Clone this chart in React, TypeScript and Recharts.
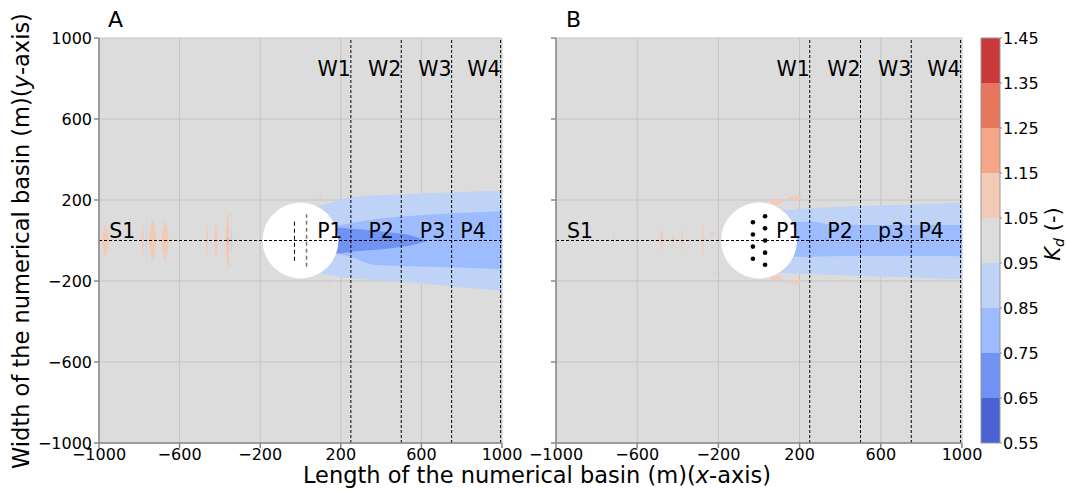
import React from "react";
import {
  ComposedChart,
  Area,
  Scatter,
  XAxis,
  YAxis,
  CartesianGrid,
  ReferenceLine,
  ReferenceDot,
  ReferenceArea,
} from "recharts";

// axis ticks (both panels)
const axisTicks = [-1000, -600, -200, 200, 600, 1000];

// colour levels of K_d (colorbar)
const levels = [0.55, 0.65, 0.75, 0.85, 0.95, 1.05, 1.15, 1.25, 1.35, 1.45];
const levelColors = [
  "#4b62d4",
  "#6f92f3",
  "#9cbcff",
  "#bfd3f6",
  "#dcdcdc",
  "#f2cbb7",
  "#f6a688",
  "#e8765c",
  "#c9393a",
];

// measuring sections
const wLines = [250, 500, 750, 993];
const wNames = ["W1", "W2", "W3", "W4"];

// wake bands, panel A: [x, low, high]
const wakeA085: number[][] = [
  [0, -150, 150],
  [113, -165, 175],
  [252, -187, 214],
  [505, -203, 228],
  [755, -228, 238],
  [1000, -248, 246],
];
const wakeA075: number[][] = [
  [100, -60, 62],
  [188, -67, 75],
  [252, -82, 86],
  [361, -120, 104],
  [505, -126, 118],
  [755, -132, 134],
  [1000, -142, 146],
];
const wakeA065: number[][] = [
  [150, -62, 62],
  [200, -63, 63],
  [252, -56, 58],
  [361, -47, 50],
  [450, -38, 40],
  [505, -31, 33],
  [570, -18, 18],
  [626, -4, -2],
];

// wake bands, panel B
const wakeB085: number[][] = [
  [0, -150, 150],
  [120, -160, 151],
  [250, -166, 159],
  [501, -175, 170],
  [749, -182, 178],
  [1000, -192, 188],
];
const wakeB075: number[][] = [
  [100, -75, 82],
  [200, -80, 90],
  [250, -80, 92],
  [350, -78, 80],
  [501, -77, 76],
  [749, -77, 76],
  [1000, -78, 76],
];

// small contour patches: [x0, x1, y0, y1, level index]
const blobsA: number[][] = [
  [-987, -950, -80, 77, 5],
  [-790, -776, -80, 80, 5],
  [-755, -714, -96, 101, 5],
  [-768, -762, -129, 122, 3],
  [-692, -653, -98, 98, 5],
  [-469, -458, -80, 80, 5],
  [-429, -411, -85, 85, 5],
  [-372, -350, -146, 150, 5],
  [-366, -356, -22, 19, 6],
  [-346, -338, -58, 60, 3],
  [-346, -338, 118, 134, 3],
  [-346, -338, -130, -113, 3],
  [90, 105, 212, 230, 5],
  [130, 145, -228, -212, 5],
];
const blobsB: number[][] = [
  [-720, -714, -38, 44, 5],
  [-487, -471, -57, 59, 5],
  [-430, -418, -32, 34, 5],
  [-382, -374, -74, 73, 5],
  [-282, -272, -90, 90, 5],
  [-240, -218, 26, 44, 5],
  [-240, -218, -44, -26, 5],
  [-224, -212, 152, 168, 5],
  [-224, -212, -168, -152, 5],
  [54, 120, 175, 208, 5],
  [136, 218, 200, 220, 5],
  [54, 120, -198, -175, 5],
  [136, 218, -215, -195, 5],
];

// sampling points in panel B
const pointsB = [
  { x: -30, y: 90 },
  { x: -30, y: 30 },
  { x: -30, y: -30 },
  { x: -30, y: -90 },
  { x: 30, y: 120 },
  { x: 30, y: 60 },
  { x: 30, y: 0 },
  { x: 30, y: -60 },
  { x: 30, y: -120 },
];

const namesA = [
  { x: -885, y: 12, text: "S1" },
  { x: 146, y: 12, text: "P1" },
  { x: 400, y: 12, text: "P2" },
  { x: 655, y: 12, text: "P3" },
  { x: 856, y: 12, text: "P4" },
];
const namesB = [
  { x: -882, y: 12, text: "S1" },
  { x: 146, y: 12, text: "P1" },
  { x: 399, y: 12, text: "P2" },
  { x: 650, y: 12, text: "p3" },
  { x: 848, y: 12, text: "P4" },
];

const wLabelData = wLines.map((x, i) => ({ x, y: 810, text: wNames[i] }));

const FONT = "DejaVu Sans";

const toBand = (rows: number[][]) => rows.map(([x, lo, hi]) => ({ x, r: [lo, hi] }));
const toLens = ([x0, x1, y0, y1]: number[]) => {
  const ym = (y0 + y1) / 2;
  return [
    { x: x0, r: [ym, ym] },
    { x: (x0 + x1) / 2, r: [y0, y1] },
    { x: x1, r: [ym, ym] },
  ];
};

const fmt = (v: number) => (v < 0 ? `\u2212${-v}` : `${v}`);

const textShape = (anchor: "middle" | "end") => (p: any) => (
  <text
    x={p.cx}
    y={p.cy}
    textAnchor={anchor}
    fontSize={20.5}
    fontFamily={FONT}
    fill="#000"
  >
    {p.payload.text}
  </text>
);

const dotShape = (p: any) => <circle cx={p.cx} cy={p.cy} r={2.3} fill="#000" />;

interface PanelProps {
  left: number;
  width: number;
  rightPad: number;
  yAxisWidth: number;
  yLabels: boolean;
  bands: { rows: number[][]; color: string }[];
  blobs: number[][];
  names: { x: number; y: number; text: string }[];
  kind: "A" | "B";
}

function Panel({ left, width, rightPad, yAxisWidth, yLabels, bands, blobs, names, kind }: PanelProps) {
  const tickStyle = { fill: "#000", fontSize: 16, fontFamily: FONT };
  return (
    <div style={{ position: "absolute", left, top: 0 }}>
      <ComposedChart
        width={width}
        height={491}
        margin={{ top: 38, right: rightPad, bottom: 18, left: 0 }}
      >
        <CartesianGrid fill="#dcdcdc" fillOpacity={1} stroke="#c4c4c4" />
        <XAxis
          type="number"
          dataKey="x"
          domain={[-1000, 1000]}
          ticks={axisTicks}
          interval={0}
          allowDataOverflow
          tickFormatter={fmt}
          tick={tickStyle}
          tickSize={5}
          tickMargin={1}
          height={30}
          stroke="#888"
          strokeWidth={1.5}
        />
        <YAxis
          type="number"
          dataKey="y"
          domain={[-1000, 1000]}
          ticks={axisTicks}
          interval={0}
          allowDataOverflow
          tickFormatter={yLabels ? fmt : () => ""}
          tick={tickStyle}
          tickSize={5}
          tickMargin={2}
          width={yAxisWidth}
          stroke="#888"
          strokeWidth={1.5}
        />
        {blobs.map((b, i) => (
          <Area
            key={`blob-${i}`}
            data={toLens(b)}
            dataKey="r"
            type="monotone"
            stroke="none"
            fill={levelColors[b[4]]}
            fillOpacity={1}
            dot={false}
            activeDot={false}
            isAnimationActive={false}
          />
        ))}
        {bands.map((b, i) => (
          <Area
            key={`band-${i}`}
            data={toBand(b.rows)}
            dataKey="r"
            type="monotone"
            stroke="none"
            fill={b.color}
            fillOpacity={1}
            dot={false}
            activeDot={false}
            isAnimationActive={false}
          />
        ))}
        <ReferenceDot x={0} y={0} r={38} fill="#fff" stroke="none" zIndex={150} />
        {kind === "A" && (
          <ReferenceLine
            segment={[
              { x: -30, y: -100 },
              { x: -30, y: 100 },
            ]}
            stroke="#000"
            strokeDasharray="4 3"
            zIndex={300}
          />
        )}
        {kind === "A" && (
          <ReferenceLine
            segment={[
              { x: 30, y: -130 },
              { x: 30, y: 130 },
            ]}
            stroke="#777"
            strokeWidth={1.5}
            strokeDasharray="4 3"
            zIndex={300}
          />
        )}
        <ReferenceLine y={0} stroke="#000" strokeDasharray="3 2" zIndex={300} />
        {wLines.map((x) => (
          <ReferenceLine
            key={`w-${x}`}
            x={x}
            stroke="#000"
            strokeDasharray="3 2"
            zIndex={300}
          />
        ))}
        {kind === "B" && (
          <Scatter data={pointsB} shape={dotShape} isAnimationActive={false} />
        )}
        <Scatter data={names} shape={textShape("middle")} isAnimationActive={false} />
        <Scatter data={wLabelData} shape={textShape("end")} isAnimationActive={false} />
      </ComposedChart>
    </div>
  );
}

function ColorBar() {
  const segs = levelColors.map((c, i) => ({
    color: c,
    data: [
      { x: 0, r: [levels[i], levels[i + 1]] },
      { x: 1, r: [levels[i], levels[i + 1]] },
    ],
  }));
  return (
    <div style={{ position: "absolute", left: 975, top: 0 }}>
      <ComposedChart
        width={92}
        height={491}
        margin={{ top: 38, right: 0, bottom: 48, left: 6 }}
      >
        <XAxis type="number" dataKey="x" domain={[0, 1]} hide />
        <YAxis
          type="number"
          orientation="right"
          domain={[0.55, 1.45]}
          ticks={levels}
          interval={0}
          allowDataOverflow
          tickFormatter={(v: number) => v.toFixed(2)}
          tick={{ fill: "#000", fontSize: 16, fontFamily: FONT }}
          tickSize={2}
          tickMargin={1}
          width={67}
          axisLine={false}
          stroke="#888"
        />
        {segs.map((s, i) => (
          <Area
            key={`cb-${i}`}
            data={s.data}
            dataKey="r"
            type="linear"
            stroke="none"
            fill={s.color}
            fillOpacity={1}
            dot={false}
            activeDot={false}
            isAnimationActive={false}
          />
        ))}
        <ReferenceArea
          x1={0}
          x2={1}
          y1={0.55}
          y2={1.45}
          fill="none"
          stroke="#999"
          strokeWidth={1}
          zIndex={300}
        />
      </ComposedChart>
    </div>
  );
}

export default function App() {
  return (
    <div
      style={{
        position: "absolute",
        left: 0,
        top: 0,
        width: 1067,
        height: 491,
        background: "#fff",
        overflow: "hidden",
        fontFamily: FONT,
      }}
    >
      <Panel
        left={0}
        width={530}
        rightPad={28}
        yAxisWidth={99}
        yLabels
        bands={[
          { rows: wakeA085, color: levelColors[3] },
          { rows: wakeA075, color: levelColors[2] },
          { rows: wakeA065, color: levelColors[1] },
        ]}
        blobs={blobsA}
        names={namesA}
        kind="A"
      />
      <Panel
        left={520}
        width={472}
        rightPad={30}
        yAxisWidth={36}
        yLabels={false}
        bands={[
          { rows: wakeB085, color: levelColors[3] },
          { rows: wakeB075, color: levelColors[2] },
        ]}
        blobs={blobsB}
        names={namesB}
        kind="B"
      />
      <ColorBar />
      <svg
        width={1067}
        height={491}
        style={{ position: "absolute", left: 0, top: 0, pointerEvents: "none" }}
        fontFamily={FONT}
      >
        <text x={108} y={27} fontSize={22}>A</text>
        <text x={566} y={27} fontSize={22}>B</text>
        <text x={537} y={483} fontSize={22.5} textAnchor="middle">
          Length of the numerical basin (m)(<tspan fontStyle="italic">x</tspan>-axis)
        </text>
        <text transform="translate(29,241) rotate(-90)" fontSize={22.5} textAnchor="middle">
          Width of the numerical basin (m)(<tspan fontStyle="italic">y</tspan>-axis)
        </text>
        <text transform="translate(1060,234) rotate(-90)" fontSize={21} textAnchor="middle">
          <tspan fontStyle="italic">K</tspan>
          <tspan fontStyle="italic" fontSize={14} dy={4}>d</tspan>
          <tspan dy={-4}> (-)</tspan>
        </text>
      </svg>
    </div>
  );
}
